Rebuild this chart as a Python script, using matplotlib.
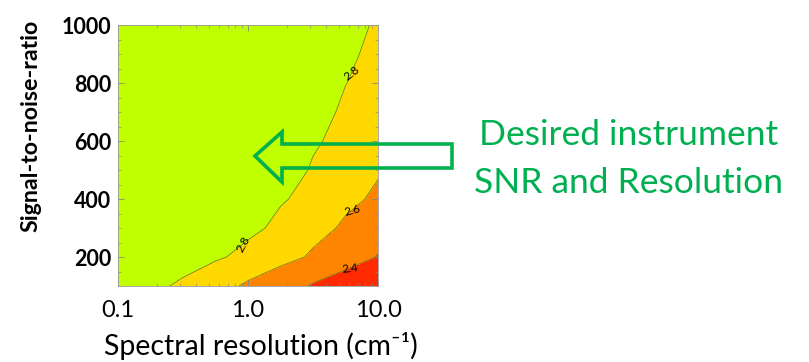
import numpy as np
import matplotlib
matplotlib.use('Agg')
import matplotlib.pyplot as plt
from matplotlib.patches import Polygon
from matplotlib.ticker import MultipleLocator, LogLocator, FixedLocator, NullFormatter

plt.rcParams['font.family'] = ['Lato', 'DejaVu Sans']
plt.rcParams['axes.unicode_minus'] = False

# spectral resolution grid (cm-1), log spaced, and SNR grid
resolution = [0.1, 0.178, 0.316, 0.562, 1.0, 1.78, 3.16, 5.62, 10.0]
snr = [100, 200, 300, 400, 500, 600, 700, 800, 900, 1000]

# retrieval metric, one row per SNR value
metric = [
    [2.942, 2.849, 2.755, 2.662, 2.568, 2.475, 2.381, 2.288, 2.194],
    [2.95, 2.95, 2.907, 2.823, 2.740, 2.657, 2.573, 2.490, 2.390],
    [2.95, 2.95, 2.95, 2.934, 2.842, 2.750, 2.659, 2.567, 2.475],
    [2.95, 2.95, 2.95, 2.95, 2.904, 2.817, 2.731, 2.645, 2.559],
    [2.95, 2.95, 2.95, 2.95, 2.947, 2.865, 2.784, 2.702, 2.620],
    [2.95, 2.95, 2.95, 2.95, 2.95, 2.893, 2.818, 2.743, 2.668],
    [2.95, 2.95, 2.95, 2.95, 2.95, 2.920, 2.848, 2.773, 2.698],
    [2.95, 2.95, 2.95, 2.95, 2.95, 2.95, 2.875, 2.803, 2.725],
    [2.95, 2.95, 2.95, 2.95, 2.95, 2.95, 2.900, 2.827, 2.752],
    [2.95, 2.95, 2.95, 2.95, 2.95, 2.95, 2.926, 2.851, 2.776],
]

levels = [2.0, 2.4, 2.6, 2.8, 3.0]
fill_colors = ['#ff2a00', '#ff8400', '#ffd800', '#c0ff00']
line_levels = [2.4, 2.6, 2.8]
label_spots = [(0.82, 248), (6.1, 852), (6.3, 362), (6.1, 179)]

green = '#00b050'

fig = plt.figure(figsize=(8.09, 3.62), dpi=100)
ax = fig.add_axes([118 / 809, 1 - 286 / 362, 260 / 809, 261 / 362])

X, Y = np.meshgrid(resolution, snr)
Z = np.array(metric)
ax.contourf(X, Y, Z, levels=levels, colors=fill_colors)
cs = ax.contour(X, Y, Z, levels=line_levels, colors='#6b6b30', linewidths=0.5)
ax.clabel(cs, fmt='%.1f', fontsize=8.5, colors='black', manual=label_spots, inline=False)

ax.set_xscale('log')
ax.set_xlim(0.1, 10.0)
ax.set_ylim(100, 1000)
ax.xaxis.set_major_locator(FixedLocator([0.1, 1.0, 10.0]))
ax.set_xticklabels(['0.1', '1.0', '10.0'], fontsize=17)
ax.xaxis.set_minor_locator(LogLocator(base=10, subs=np.arange(2, 10)))
ax.xaxis.set_minor_formatter(NullFormatter())
ax.yaxis.set_major_locator(FixedLocator([200, 400, 600, 800, 1000]))
ax.yaxis.set_minor_locator(MultipleLocator(50))
for lab in ax.get_yticklabels():
    lab.set_fontsize(15.5)
    lab.set_fontweight('bold')

ax.tick_params(which='both', direction='in', top=True, right=True, color='#888888')
ax.tick_params(which='major', length=4, width=0.6)
ax.tick_params(axis='x', which='major', pad=10)
ax.tick_params(axis='y', which='major', pad=5)
ax.tick_params(which='minor', length=2, width=0.5)
for s in ax.spines.values():
    s.set_linewidth(0.6)
    s.set_color('#999999')

ax.set_xlabel('Spectral resolution (cm\u207b\u00b9)', fontsize=20.5, va='baseline')
ax.xaxis.set_label_coords(0.548, -0.264)
ax.set_ylabel('Signal-to-noise-ratio', fontsize=16.7, fontweight='bold', va='center')
ax.yaxis.set_label_coords(-0.335, 0.613)

# hollow arrow pointing into the plot
pts = [(255, 156), (282, 132), (282, 144), (452, 144), (452, 168), (282, 168), (282, 182)]
arrow = Polygon([(px / 809, 1 - py / 362) for px, py in pts], closed=True, fill=False,
                edgecolor=green, linewidth=2.6, joinstyle='miter', transform=fig.transFigure)
fig.patches.append(arrow)

fig.text(629 / 809, 1 - 145 / 362, 'Desired instrument', color=green, fontsize=25.5,
         ha='center', va='baseline')
fig.text(628 / 809, 1 - 193 / 362, 'SNR and Resolution', color=green, fontsize=25.5,
         ha='center', va='baseline')

fig.savefig('out.png', dpi=100)
